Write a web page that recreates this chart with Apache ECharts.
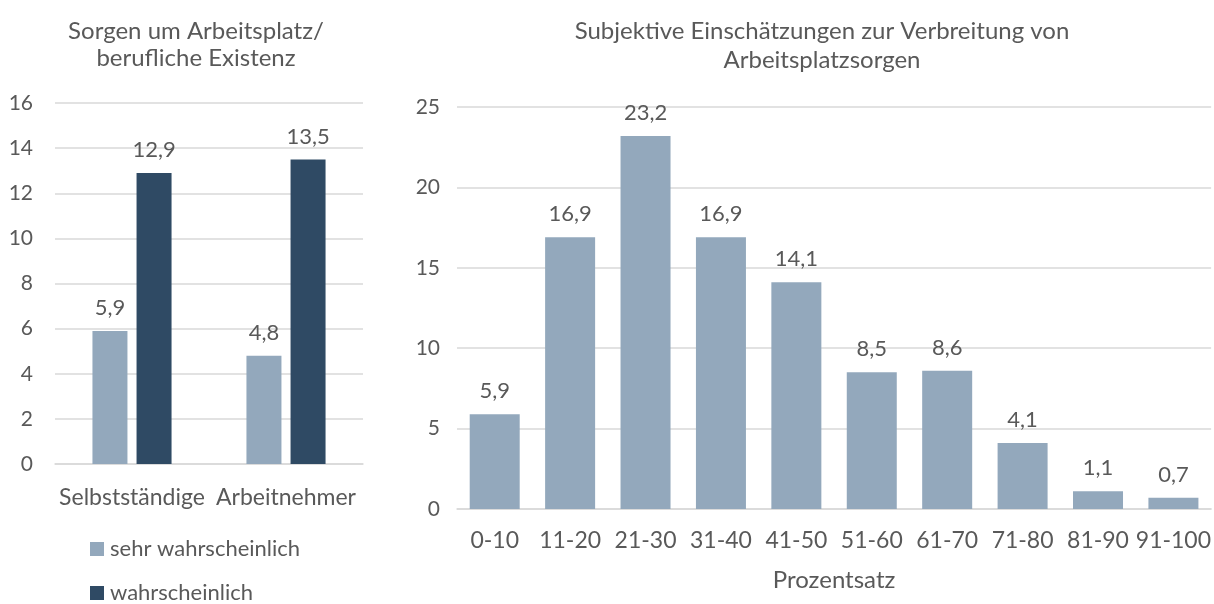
<!DOCTYPE html>
<html><head><meta charset="utf-8">
<script src="https://cdn.jsdelivr.net/npm/echarts@6/dist/echarts.min.js"></script>
<style>html,body{margin:0;padding:0;background:#fff}#c{width:1214px;height:604px}</style>
</head><body><div id="c"></div>
<script>
const leftTitle = 'Sorgen um Arbeitsplatz/\nberufliche Existenz';
const rightTitle = 'Subjektive Einschätzungen zur Verbreitung von\nArbeitsplatzsorgen';
const leftCategories = ['Selbstständige', 'Arbeitnehmer'];
const seriesNames = ['sehr wahrscheinlich', 'wahrscheinlich'];
const sehrWahrscheinlich = [5.9, 4.8];
const wahrscheinlich = [12.9, 13.5];
const rightCategories = ['0-10','11-20','21-30','31-40','41-50','51-60','61-70','71-80','81-90','91-100'];
const rightValues = [5.9, 16.9, 23.2, 16.9, 14.1, 8.5, 8.6, 4.1, 1.1, 0.7];
const rightAxisName = 'Prozentsatz';

const FONT = 'Lato';
const TXT = '#595959';
const GRID = '#D9D9D9';
const LIGHT = '#93A8BC';
const DARK = '#2F4A64';
const fmt = p => String(p.value).replace('.', ',');

const legendBase = {
  orient: 'vertical', left: 90, padding: 0,
  itemWidth: 14, itemHeight: 14, icon: 'rect',
  textStyle: { fontFamily: FONT, fontSize: 22, color: TXT, padding: [0,0,0,1] }
};

const chart = echarts.init(document.getElementById('c'));
chart.setOption({
  animation: false,
  textStyle: { fontFamily: FONT, color: TXT },
  title: [
    { text: leftTitle, left: 191, top: 13, textAlign: 'center',
      textStyle: { fontFamily: FONT, fontSize: 24, fontWeight: 'normal', color: TXT, lineHeight: 27 } },
    { text: rightTitle, left: 817, top: 12, textAlign: 'center',
      textStyle: { fontFamily: FONT, fontSize: 24, fontWeight: 'normal', color: TXT, lineHeight: 29 } }
  ],
  legend: [
    Object.assign({}, legendBase, { top: 538, data: [seriesNames[0]] }),
    Object.assign({}, legendBase, { top: 582, data: [seriesNames[1]] })
  ],
  grid: [
    { left: 55, right: 851, top: 103, bottom: 140 },
    { left: 457, right: 2, top: 107, bottom: 95 }
  ],
  xAxis: [
    { type: 'category', gridIndex: 0, data: leftCategories,
      axisLine: { lineStyle: { color: GRID, width: 1.5 } }, axisTick: { show: false },
      axisLabel: { fontFamily: FONT, fontSize: 23, color: TXT, margin: 22, interval: 0 } },
    { type: 'category', gridIndex: 1, data: rightCategories,
      axisLine: { lineStyle: { color: GRID, width: 1.5 } }, axisTick: { show: false },
      axisLabel: { fontFamily: FONT, fontSize: 23, color: TXT, margin: 20, interval: 0 },
      name: rightAxisName, nameLocation: 'middle', nameGap: 59,
      nameTextStyle: { fontFamily: FONT, fontSize: 24, color: TXT } }
  ],
  yAxis: [
    { type: 'value', gridIndex: 0, min: 0, max: 16, interval: 2,
      axisLine: { show: false }, axisTick: { show: false },
      splitLine: { lineStyle: { color: GRID, width: 1.5 } },
      axisLabel: { fontFamily: FONT, fontSize: 21, color: TXT, margin: 22 } },
    { type: 'value', gridIndex: 1, min: 0, max: 25, interval: 5,
      axisLine: { show: false }, axisTick: { show: false },
      splitLine: { lineStyle: { color: GRID, width: 1.5 } },
      axisLabel: { fontFamily: FONT, fontSize: 21, color: TXT, margin: 17 } }
  ],
  series: [
    { name: seriesNames[0], type: 'bar', xAxisIndex: 0, yAxisIndex: 0, data: sehrWahrscheinlich,
      barWidth: 35, barGap: '26%', itemStyle: { color: LIGHT },
      label: { show: true, position: 'top', distance: 12, formatter: fmt, fontFamily: FONT, fontSize: 22, color: TXT } },
    { name: seriesNames[1], type: 'bar', xAxisIndex: 0, yAxisIndex: 0, data: wahrscheinlich,
      barWidth: 35, barGap: '26%', itemStyle: { color: DARK },
      label: { show: true, position: 'top', distance: 12, formatter: fmt, fontFamily: FONT, fontSize: 22, color: TXT } },
    { name: 'Verbreitung', type: 'bar', xAxisIndex: 1, yAxisIndex: 1, data: rightValues,
      barWidth: 50, itemStyle: { color: LIGHT },
      label: { show: true, position: 'top', distance: 12, formatter: fmt, fontFamily: FONT, fontSize: 22, color: TXT } }
  ]
});
</script></body></html>
